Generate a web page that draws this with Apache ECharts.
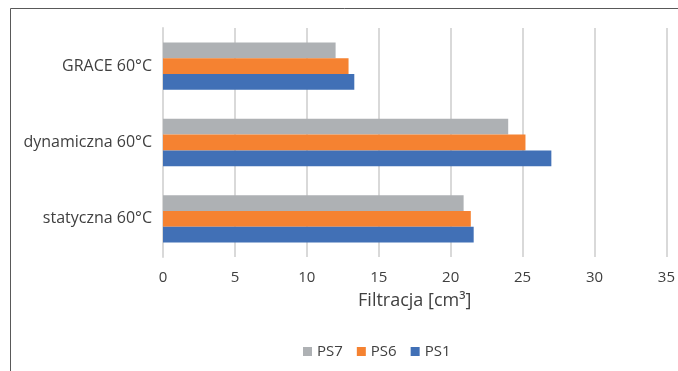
<!DOCTYPE html>
<html>
<head>
<meta charset="utf-8">
<script src="https://cdn.jsdelivr.net/npm/echarts@6/dist/echarts.min.js"></script>
<style>
html,body{margin:0;padding:0;background:#fff;}
#chart{width:678px;height:371px;}
</style>
</head>
<body>
<div id="chart"></div>
<script>
// Filtration volume per test method, cm³
const categories = ['statyczna 60°C', 'dynamiczna 60°C', 'GRACE 60°C'];
const ps7 = [20.9, 24.0, 12.0];
const ps6 = [21.4, 25.2, 12.9];
const ps1 = [21.6, 27.0, 13.3];
const seriesNames = ['PS7', 'PS6', 'PS1'];
const legendOrder = ['PS7', 'PS6', 'PS1'];
const xTicks = { min: 0, max: 35, interval: 5 };

const colors = { PS1: '#4170B6', PS6: '#F58231', PS7: '#AEB1B4' };
const font = 'Open Sans';

const chart = echarts.init(document.getElementById('chart'), null, { renderer: 'canvas' });
const values = [ps7, ps6, ps1];

chart.setOption({
  animation: false,
  backgroundColor: '#fff',
  graphic: [{
    type: 'rect',
    shape: { x: 10.5, y: 8.5, width: 700, height: 400 },
    style: { fill: 'none', stroke: '#595959', lineWidth: 1 },
    silent: true
  }],
  grid: { left: 163, right: 7.5, top: 28, bottom: 114, containLabel: false },
  legend: {
    data: legendOrder,
    top: 339,
    left: 298,
    itemWidth: 9,
    itemHeight: 9,
    itemGap: 14,
    icon: 'rect',
    textStyle: { fontFamily: font, fontSize: 15, color: '#404040' }
  },
  xAxis: {
    type: 'value',
    min: xTicks.min,
    max: xTicks.max,
    interval: xTicks.interval,
    name: 'Filtracja [cm³]',
    nameLocation: 'middle',
    nameGap: 35,
    nameTextStyle: { fontFamily: font, fontSize: 18, color: '#404040' },
    axisLine: { show: false },
    axisTick: { show: false },
    axisLabel: { fontFamily: font, fontSize: 15, color: '#404040', margin: 13 },
    splitLine: { show: true, lineStyle: { color: '#d9d9d9', width: 2 } }
  },
  yAxis: {
    type: 'category',
    data: categories,
    axisLine: { show: true, lineStyle: { color: '#d9d9d9', width: 2 } },
    axisTick: { show: false },
    axisLabel: { fontFamily: font, fontSize: 16, color: '#404040', margin: 11 }
  },
  series: seriesNames.map((name, i) => ({
    name: name,
    type: 'bar',
    data: values[i],
    barGap: '0%',
    barCategoryGap: '38%',
    itemStyle: { color: colors[name] }
  }))
});
</script>
</body>
</html>
